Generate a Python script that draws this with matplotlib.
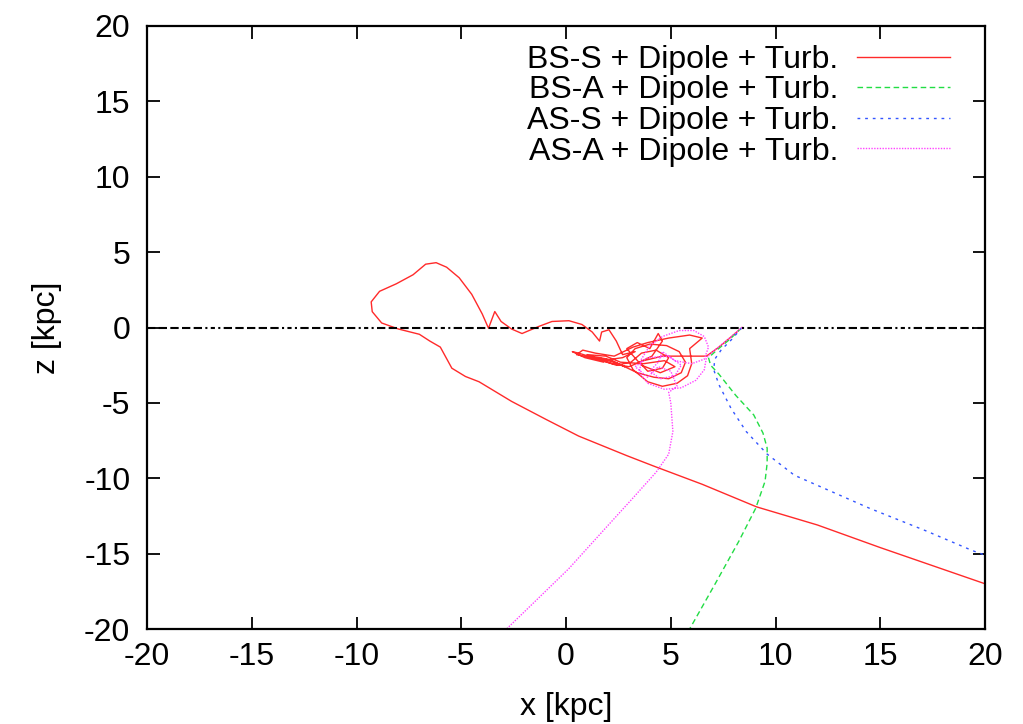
import numpy as np
import matplotlib
matplotlib.use("Agg")
import matplotlib.pyplot as plt

plt.rcParams['font.family'] = ['Liberation Sans', 'DejaVu Sans']
plt.rcParams['axes.unicode_minus'] = False

# back-tracked trajectories (x, z) in kpc
bss_x = [8.4, 7.9, 7.3, 6.7, 5.7, 4.6, 3.7, 3.0, 2.2, 1.3, 0.6, 0.3, 0.9, 1.8, 1.2, 2.0, 2.8, 2.2,
         1.5, 2.5, 3.4, 4.2, 4.9, 5.5, 5.7, 5.4, 4.8, 4.0, 3.3, 2.9, 3.2, 3.9, 4.6, 5.3, 5.8, 6.0,
         5.9, 6.5, 5.9, 4.9, 3.9, 3.2, 2.3, 1.4, 0.8, 0.5, 1.5, 2.4, 3.1, 3.6, 4.3, 4.9, 4.6, 3.9,
         3.5, 4.1, 4.6, 4.4, 4.0, 3.4, 2.9, 3.6, 4.5, 5.2, 4.7, 3.7, 2.6, 1.9, 1.0, 1.7, 2.7, 3.3,
         2.7, 2.4, 2.05, 1.7, 1.6, 1.25, 0.76, 0.14, -0.67, -1.3, -2.1, -2.6, -3.1, -3.4, -3.7,
         -4.0, -4.5, -5.1, -5.7, -6.2, -6.7, -7.3, -8.1, -8.9, -9.3, -9.25, -8.8, -8.0, -7.0, -6.5,
         -6.0, -5.45, -4.8, -4.15, -2.6, -0.95, 0.6, 2.9, 4.2, 6.5, 9.1, 12.0, 15.0, 17.5, 20.0]
bss_z = [0.0, -0.6, -1.3, -1.9, -1.9, -1.9, -2.2, -2.6, -2.4, -2.0, -1.7, -1.6, -2.0, -2.3, -1.9,
         -2.1, -2.6, -2.2, -2.0, -2.4, -3.0, -3.3, -3.4, -3.0, -2.3, -1.6, -1.2, -1.1, -1.4, -2.0,
         -2.8, -3.6, -3.9, -3.7, -3.2, -2.4, -1.4, -0.7, -0.5, -0.7, -1.0, -1.3, -1.9, -1.7, -1.5,
         -1.8, -2.1, -2.5, -2.3, -1.7, -1.5, -2.0, -2.7, -2.9, -2.3, -1.9, -0.9, -0.4, -1.4, -1.0,
         -1.4, -2.5, -3.0, -2.6, -2.2, -2.4, -2.3, -1.9, -1.8, -2.2, -2.0, -1.6, -1.8, -0.9, -0.15,
         -0.3, -0.9, -0.3, 0.2, 0.45, 0.4, 0.07, -0.4, -0.1, 0.4, 1.06, -0.05, 0.9, 2.2, 3.3, 4.0,
         4.3, 4.2, 3.5, 2.9, 2.4, 1.7, 1.05, 0.3, -0.1, -0.45, -0.9, -1.3, -2.7, -3.25, -3.6, -4.9,
         -6.1, -7.2, -8.5, -9.2, -10.4, -11.9, -13.1, -14.6, -15.8, -17.0]

bsa_x = [8.4, 7.8, 7.2, 6.8, 6.9, 7.3, 8.1, 8.96, 9.4, 9.6, 9.6, 9.5, 9.05, 8.24, 7.16, 5.9]
bsa_z = [0.0, -0.8, -1.5, -2.0, -2.5, -3.1, -4.5, -5.8, -7.0, -8.0, -9.0, -10.2, -12.0, -14.2,
         -16.9, -20.0]

ass_x = [8.4, 7.9, 7.4, 7.1, 7.05, 7.3, 7.87, 8.6, 9.6, 10.9, 12.7, 14.5, 17.2, 19.4, 20.0]
ass_z = [0.0, -0.8, -1.5, -2.1, -2.8, -3.8, -5.35, -6.9, -8.4, -9.8, -10.9, -12.0, -13.5, -14.8,
         -15.1]

asa_x = [8.4, 7.8, 7.1, 6.7, 6.6, 6.2, 5.5, 4.7, 3.9, 3.5, 3.6, 4.0, 4.6, 5.4, 6.1, 6.6, 6.8, 6.6,
         6.0, 5.2, 4.6, 4.4, 4.0, 4.5, 5.2, 5.5, 4.9, 3.9, 3.3, 3.9, 4.4, 5.0, 5.3, 4.9, 5.0, 5.1,
         4.9, 4.3, 3.2, 1.76, 0.13, -1.5, -2.84]
asa_z = [0.0, -0.7, -1.5, -2.0, -2.8, -3.5, -4.0, -4.1, -3.7, -3.0, -2.1, -1.2, -0.6, -0.2, -0.2,
         -0.6, -1.3, -2.1, -2.4, -2.2, -1.6, -2.3, -2.9, -3.4, -3.2, -2.5, -1.9, -2.0, -2.6, -3.3,
         -2.6, -2.9, -3.9, -4.3, -5.0, -6.9, -8.4, -9.6, -11.3, -13.5, -16.0, -18.2, -20.0]

labels = ["BS-S + Dipole + Turb.", "BS-A + Dipole + Turb.",
          "AS-S + Dipole + Turb.", "AS-A + Dipole + Turb."]
ticks = [-20, -15, -10, -5, 0, 5, 10, 15, 20]

fig = plt.figure(figsize=(10.23, 7.24), dpi=100)
ax = fig.add_axes([0.1437, 0.1312, 0.8192, 0.8329])

ax.plot(bss_x, bss_z, color='#ff2a2a', lw=1.0, label=labels[0])
ax.plot(bsa_x, bsa_z, color='#22dd44', lw=1.0, dashes=(4, 2.5), label=labels[1])
ax.plot(ass_x, ass_z, color='#3355ff', lw=1.0, dashes=(2, 3.5), label=labels[2])
ax.plot(asa_x, asa_z, color='#ff44ff', lw=1.0, dashes=(1, 1), label=labels[3])

ax.plot([-20, 20], [0, 0], color='black', lw=1.5,
        dashes=(4, 1.6, 4, 1.6, 4, 1.6, 4, 1.6, 4, 1.6, 1, 1.6, 2, 1.6, 1, 1.6))

ax.set_xlim(-20, 20)
ax.set_ylim(-20, 20)
ax.set_xticks(ticks)
ax.set_yticks(ticks)
ax.tick_params(direction='in', length=9, width=1.3, labelsize=23, top=True, right=True)
ax.tick_params(axis='x', pad=9)
ax.tick_params(axis='y', pad=12)
for s in ax.spines.values():
    s.set_linewidth(1.6)

ax.set_xlabel("x [kpc]", fontsize=23, labelpad=15)
ax.set_ylabel("z [kpc]", fontsize=23, labelpad=16)

ax.legend(loc='upper right', bbox_to_anchor=(0.958, 0.969), frameon=False, fontsize=23,
          markerfirst=False, handlelength=2.9, handletextpad=0.6, labelspacing=0.02,
          borderpad=0, borderaxespad=0)

fig.savefig("out.png", dpi=100)
